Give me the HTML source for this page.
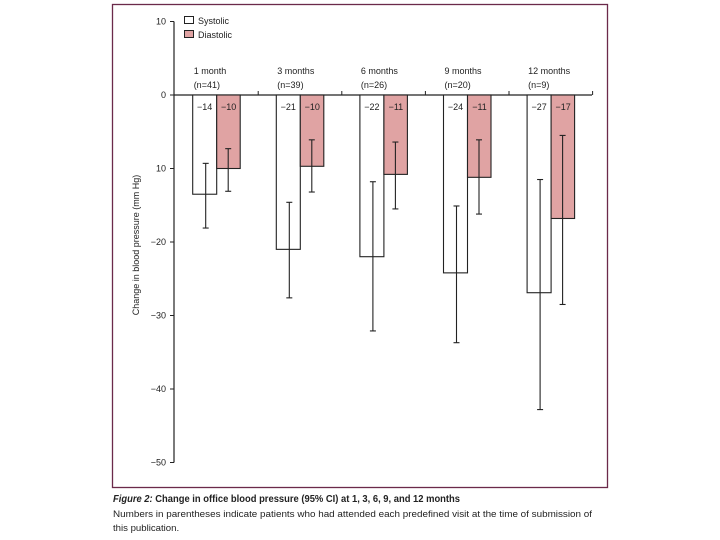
<!DOCTYPE html>
<html><head><meta charset="utf-8"><style>
body{margin:0;background:#fff;width:720px;height:540px;overflow:hidden;font-family:"Liberation Sans",sans-serif;}
svg{position:absolute;left:0;top:0}
</style></head><body>
<svg id="chart" width="720" height="540" xmlns="http://www.w3.org/2000/svg">
<rect x="112.5" y="4.5" width="495" height="483" fill="none" stroke="#6b2a4a" stroke-width="1.3"/>
<g id="axes"></g>
<g id="marks"></g>
<text transform="translate(139,245) rotate(-90)" text-anchor="middle" font-size="9" fill="#222">Change in blood pressure (mm Hg)</text>
<g>
<rect x="184.5" y="16.5" width="9" height="7" fill="#fff" stroke="#222"/>
<text x="198" y="24" font-size="9" fill="#222">Systolic</text>
<rect x="184.5" y="30.5" width="9" height="7" fill="#e0a3a3" stroke="#222"/>
<text x="198" y="38" font-size="9" fill="#222">Diastolic</text>
</g>
<text x="113" y="502" font-size="10" font-weight="bold" fill="#222" textLength="347" lengthAdjust="spacingAndGlyphs"><tspan font-style="italic">Figure 2:</tspan> Change in office blood pressure (95% CI) at 1, 3, 6, 9, and 12 months</text>
<text x="113" y="517" font-size="9.6" fill="#222" textLength="479" lengthAdjust="spacingAndGlyphs">Numbers in parentheses indicate  patients who had attended each predefined visit at the time of submission of</text>
<text x="113" y="531" font-size="9.6" fill="#222">this publication.</text>
</svg>
<script>
const categories=["1 month","3 months","6 months","9 months","12 months"];
const nLabels=["(n=41)","(n=39)","(n=26)","(n=20)","(n=9)"];
const systolic=[-13.5,-21,-22,-24.2,-26.9];
const systolicLo=[-9.3,-14.6,-11.8,-15.1,-11.5];
const systolicHi=[-18.1,-27.6,-32.1,-33.7,-42.8];
const diastolic=[-10,-9.7,-10.8,-11.2,-16.8];
const diastolicLo=[-7.3,-6.1,-6.4,-6.1,-5.5];
const diastolicHi=[-13.1,-13.2,-15.5,-16.2,-28.5];
const sysLabels=["−14","−21","−22","−24","−27"];
const diaLabels=["−10","−10","−11","−11","−17"];
const yTicks=[10,0,-10,-20,-30,-40,-50];
const yTickLabels=["10","0","10","−20","−30","−40","−50"];

const NS="http://www.w3.org/2000/svg";
const y=v=>95+(0-v)*7.35;
const gx=i=>192.7+i*83.6;
const BW=24;
const axes=document.getElementById('axes'),marks=document.getElementById('marks');
function mk(tag,attrs,parent){const e=document.createElementNS(NS,tag);for(const k in attrs)e.setAttribute(k,attrs[k]);parent.appendChild(e);return e;}
let e=mk('line',{x1:174,x2:174,y1:y(10),y2:y(-50),stroke:'#222','stroke-width':1.2},axes);


yTicks.forEach((t,i)=>{
 let l=mk('line',{x1:170,x2:174,y1:y(t),y2:y(t),stroke:'#222'},axes);
 
 
 let tx=mk('text',{x:166,y:y(t)+3,'text-anchor':'end','font-size':9,fill:'#222'},axes);
 tx.textContent=yTickLabels[i];
 
 
});
e=mk('line',{x1:174,x2:592,y1:y(0),y2:y(0),stroke:'#222','stroke-width':1.2},axes);


categories.forEach((c,i)=>{
 const x0=gx(i);
 let tk=mk('line',{x1:x0+65.5,x2:x0+65.5,y1:y(0)-4,y2:y(0)+0,stroke:'#222'},axes);
 
 
 let t1=mk('text',{x:x0+1,y:74,'font-size':9,fill:'#222'},axes);t1.textContent=c;
 
 
 let t2=mk('text',{x:x0+1,y:88,'font-size':9,fill:'#222'},axes);t2.textContent=nLabels[i];
 
 
 let b=mk('rect',{x:x0,y:y(0),width:BW,height:y(systolic[i])-y(0),fill:'#fff',stroke:'#222','stroke-width':1.1},marks);
 
 
 let d=mk('rect',{x:x0+BW,y:y(0),width:BW-0.5,height:y(diastolic[i])-y(0),fill:'#e0a3a3',stroke:'#222','stroke-width':1.1},marks);
 
 
 [[x0+13,systolicLo[i],systolicHi[i],'error-bar-systolic'],[x0+BW+11.5,diastolicLo[i],diastolicHi[i],'error-bar-diastolic']].forEach(([ex,lo,hi,nm])=>{
  const g=mk('g',{},marks);
  
  
  mk('line',{x1:ex,x2:ex,y1:y(lo),y2:y(hi),stroke:'#222','stroke-width':1.1},g);
  mk('line',{x1:ex-3,x2:ex+3,y1:y(lo),y2:y(lo),stroke:'#222','stroke-width':1.1},g);
  mk('line',{x1:ex-3,x2:ex+3,y1:y(hi),y2:y(hi),stroke:'#222','stroke-width':1.1},g);
 });
 let sl=mk('text',{x:x0+12,y:110,'text-anchor':'middle','font-size':9,fill:'#222'},marks);sl.textContent=sysLabels[i];
 
 
 let dl=mk('text',{x:x0+BW+12,y:110,'text-anchor':'middle','font-size':9,fill:'#222'},marks);dl.textContent=diaLabels[i];
 
 
});
</script>
</body></html>
